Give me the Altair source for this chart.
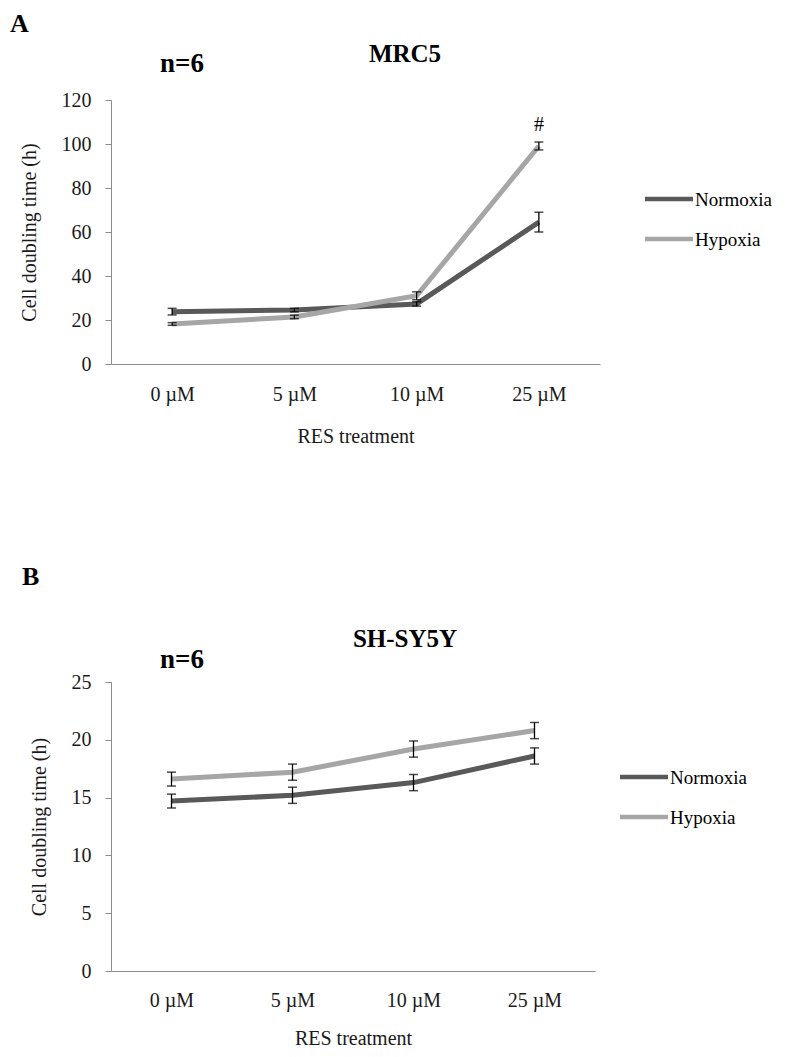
import altair as alt
import pandas as pd

categories = ["0 µM", "5 µM", "10 µM", "25 µM"]
series = ["Normoxia", "Hypoxia"]
series_colors = ["#595959", "#a6a6a6"]

# Panel A: MRC5
mrc5_normoxia = [23.8, 24.5, 27.3, 64.5]
mrc5_normoxia_err = [1.5, 0.8, 1.0, 4.5]
mrc5_hypoxia = [18.2, 21.4, 31.0, 99.1]
mrc5_hypoxia_err = [0.6, 0.8, 1.8, 1.8]
mrc5_hypoxia_marks = ["", "", "", "#"]
mrc5_ticks = [0, 20, 40, 60, 80, 100, 120]

# Panel B: SH-SY5Y
sh_normoxia = [14.7, 15.2, 16.3, 18.6]
sh_normoxia_err = [0.6, 0.7, 0.7, 0.7]
sh_hypoxia = [16.6, 17.2, 19.2, 20.8]
sh_hypoxia_err = [0.6, 0.7, 0.7, 0.7]
sh_hypoxia_marks = ["", "", "", ""]
sh_ticks = [0, 5, 10, 15, 20, 25]

FONT = "Liberation Serif"


def make_df(norm, norm_err, hyp, hyp_err, hyp_marks):
    rows = []
    for s, vals, errs, marks in [
        ("Normoxia", norm, norm_err, [""] * len(categories)),
        ("Hypoxia", hyp, hyp_err, hyp_marks),
    ]:
        for c, v, e, m in zip(categories, vals, errs, marks):
            rows.append({"dose": c, "series": s, "mean": v, "lo": v - e, "hi": v + e, "mark": m})
    return pd.DataFrame(rows)


def panel(df, w, h, ticks, name, letter, letter_x, letter_y, n_y, name_y, leg_x, leg_y,
          xlab_pad, xtitle_pad):
    xenc = alt.X(
        "dose:N",
        sort=categories,
        scale=alt.Scale(type="point", padding=0.5, domain=categories),
        axis=alt.Axis(title="RES  treatment", ticks=False, labelAngle=0,
                      labelPadding=xlab_pad, titlePadding=xtitle_pad),
    )

    def yenc(field):
        return alt.Y(
            f"{field}:Q",
            scale=alt.Scale(domain=[ticks[0], ticks[-1]], nice=False, zero=True),
            axis=alt.Axis(title="Cell doubling time (h)", values=ticks, grid=False),
        )

    base = alt.Chart(df)
    layers = []
    for s, col in zip(series, series_colors):
        layers.append(
            base.transform_filter(alt.datum.series == s)
            .mark_line(strokeWidth=5, color=col)
            .encode(x=xenc, y=yenc("mean"))
        )
    layers.append(
        base.mark_rule(color="black", strokeWidth=1.3).encode(x=xenc, y=yenc("lo"), y2="hi:Q")
    )
    layers.append(
        base.mark_tick(color="black", size=9, thickness=1.5).encode(x=xenc, y=yenc("lo"))
    )
    layers.append(
        base.mark_tick(color="black", size=9, thickness=1.5).encode(x=xenc, y=yenc("hi"))
    )
    layers.append(
        base.mark_text(font=FONT, fontSize=20, dy=-17, color="black").encode(
            x=xenc, y=yenc("hi"), text="mark:N"
        )
    )
    one = alt.Data(values=[{}])
    # legend
    for i, (s, col) in enumerate(zip(series, series_colors)):
        yy = leg_y + 40 * i
        layers.append(
            alt.Chart(one).mark_rule(color=col, strokeWidth=4.5).encode(
                x=alt.value(leg_x), x2=alt.value(leg_x + 48), y=alt.value(yy)
            )
        )
        layers.append(
            alt.Chart(one).mark_text(
                text=s, font=FONT, fontSize=19, align="left", baseline="middle", color="black"
            ).encode(x=alt.value(leg_x + 50), y=alt.value(yy + 1))
        )
    # titles
    layers.append(
        alt.Chart(one).mark_text(
            text=letter, font=FONT, fontSize=26, fontWeight="bold", align="left",
            baseline="alphabetic", color="black",
        ).encode(x=alt.value(letter_x), y=alt.value(letter_y))
    )
    layers.append(
        alt.Chart(one).mark_text(
            text="n=6", font=FONT, fontSize=27, fontWeight="bold", align="left",
            baseline="alphabetic", color="black",
        ).encode(x=alt.value(49), y=alt.value(n_y))
    )
    layers.append(
        alt.Chart(one).mark_text(
            text=name, font=FONT, fontSize=25, fontWeight="bold", align="center",
            baseline="alphabetic", color="black",
        ).encode(x=alt.value(294), y=alt.value(name_y))
    )
    return alt.layer(*layers).properties(width=w, height=h)


df_a = make_df(mrc5_normoxia, mrc5_normoxia_err, mrc5_hypoxia, mrc5_hypoxia_err, mrc5_hypoxia_marks)
df_b = make_df(sh_normoxia, sh_normoxia_err, sh_hypoxia, sh_hypoxia_err, sh_hypoxia_marks)

pa = panel(df_a, 489, 264, mrc5_ticks, "MRC5", "A", -101, -68, -28, -38, 534, 99, 20, 22)
pb = panel(df_b, 484, 289, sh_ticks, "SH-SY5Y", "B", -89, -97, -14, -35, 509, 95, 19, 18)

# canvas: 768 x 1041 with the first plot area's top-left at (103, 92)
chart = (
    alt.vconcat(pa, pb, spacing=318, bounds="flush")
    .resolve_scale(x="independent", y="independent")
    .properties(
        autosize=alt.AutoSizeParams(type="none"),
        padding={"left": 103, "top": 92, "right": 665, "bottom": 949},
    )
    .configure_view(stroke=None)
    .configure_axis(
        domainColor="#8c8c8c",
        domainWidth=1,
        tickColor="#8c8c8c",
        tickWidth=1,
        tickSize=6,
        labelFont=FONT,
        labelFontSize=20,
        labelColor="#1a1a1a",
        titleFont=FONT,
        titleFontSize=20,
        titleFontWeight="normal",
        titleColor="#1a1a1a",
        grid=False,
    )
    .configure_axisY(labelPadding=14, titlePadding=22)
)

chart.save("out.html", embed_options={"renderer": "svg", "actions": False})
